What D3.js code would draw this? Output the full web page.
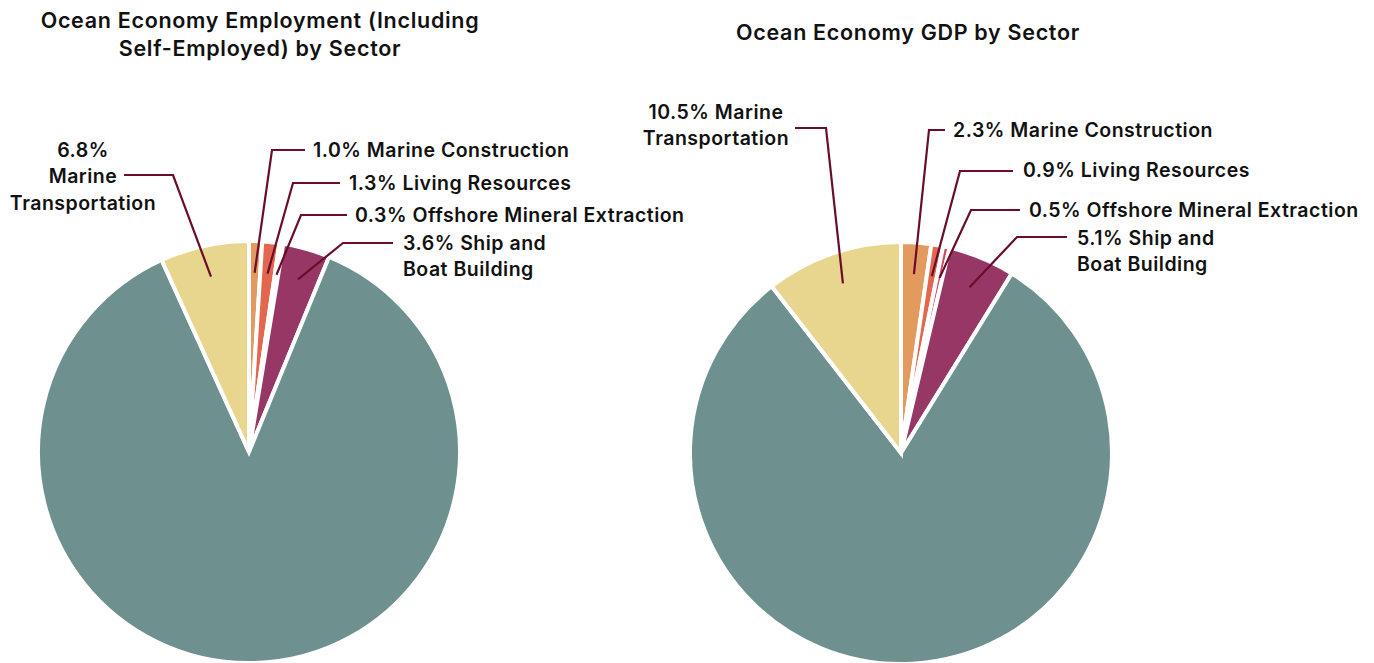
<!DOCTYPE html>
<html>
<head>
<meta charset="utf-8">
<script src="https://cdn.jsdelivr.net/npm/d3@7"></script>
<style>
  html, body { margin: 0; padding: 0; background: #ffffff; }
  svg { display: block; }
  text { font-family: Inter, "Liberation Sans", sans-serif; font-weight: 600; fill: #111111; }
</style>
</head>
<body>
<svg id="chart" width="1374" height="663"></svg>
<script>
// Sectors, in clockwise order from 12 o'clock
const sectors = [
  "Marine Construction",
  "Living Resources",
  "Offshore Mineral Extraction",
  "Ship and Boat Building",
  "Tourism and Recreation",
  "Marine Transportation"
];
// Share of ocean-economy employment (incl. self-employed), percent
const employmentShares = [1.0, 1.3, 0.3, 3.6, 87.0, 6.8];
// Share of ocean-economy GDP, percent
const gdpShares = [2.3, 0.9, 0.5, 5.1, 80.7, 10.5];
// Sectors that get a callout label (the large tourism slice is left unlabeled)
const labelledSectors = [
  "Marine Construction",
  "Living Resources",
  "Offshore Mineral Extraction",
  "Ship and Boat Building",
  "Marine Transportation"
];

const sectorColors = ["#e39a5f", "#e3664f", "#cc4e63", "#973766", "#6e9190", "#e8d68e"];
const leaderColor = "#6a0c2a";

const color = d3.scaleOrdinal().domain(sectors).range(sectorColors);
const svg = d3.select("#chart");

// Callout layout per chart: elbow point, end of horizontal run, text anchor and line breaks
const charts = [
  {
    title: ["Ocean Economy Employment (Including", "Self-Employed) by Sector"],
    titleX: 260, titleY: 20,
    values: employmentShares,
    cx: 249, cy: 452, r: 211,
    callouts: {
      "Marine Construction":        { elbow: [272, 150], end: 305, tx: 313, ty: 150, anchor: "start", fmt: v => [`${v.toFixed(1)}% Marine Construction`] },
      "Living Resources":           { elbow: [293, 183], end: 340, tx: 349, ty: 183, anchor: "start", fmt: v => [`${v.toFixed(1)}% Living Resources`] },
      "Offshore Mineral Extraction":{ elbow: [301, 215], end: 347, tx: 355, ty: 215, anchor: "start", fmt: v => [`${v.toFixed(1)}% Offshore Mineral Extraction`] },
      "Ship and Boat Building":     { elbow: [343, 243], end: 393, tx: 403, ty: 243, anchor: "start", fmt: v => [`${v.toFixed(1)}% Ship and`, "Boat Building"] },
      "Marine Transportation":      { elbow: [173, 175], end: 124, tx: 83, ty: 150, anchor: "middle", fmt: v => [`${v.toFixed(1)}%`, "Marine", "Transportation"] }
    }
  },
  {
    title: ["Ocean Economy GDP by Sector"],
    titleX: 908, titleY: 32,
    values: gdpShares,
    cx: 901, cy: 453, r: 211,
    callouts: {
      "Marine Construction":        { elbow: [929, 130], end: 945, tx: 953, ty: 130, anchor: "start", fmt: v => [`${v.toFixed(1)}% Marine Construction`] },
      "Living Resources":           { elbow: [960, 171], end: 1013, tx: 1023, ty: 170, anchor: "start", fmt: v => [`${v.toFixed(1)}% Living Resources`] },
      "Offshore Mineral Extraction":{ elbow: [971, 210], end: 1020, tx: 1029, ty: 210, anchor: "start", fmt: v => [`${v.toFixed(1)}% Offshore Mineral Extraction`] },
      "Ship and Boat Building":     { elbow: [1017, 237], end: 1067, tx: 1077, ty: 238, anchor: "start", fmt: v => [`${v.toFixed(1)}% Ship and`, "Boat Building"] },
      "Marine Transportation":      { elbow: [826, 128], end: 795, tx: 716, ty: 112, anchor: "middle", fmt: v => [`${v.toFixed(1)}% Marine`, "Transportation"] }
    }
  }
];

const pie = d3.pie().sort(null).value(d => d.value);
const labelFont = { size: 19.5, spacing: 0.5, lineHeight: 26.5 };
const titleFont = { size: 21.5, spacing: 0.7, lineHeight: 28 };

charts.forEach(c => {
  const rows = sectors.map((s, i) => ({ sector: s, value: c.values[i] }));
  const arcs = pie(rows);
  const arc = d3.arc().innerRadius(0).outerRadius(c.r);
  const anchorArc = d3.arc().innerRadius(c.r * 0.85).outerRadius(c.r * 0.85);

  const g = svg.append("g").attr("transform", `translate(${c.cx},${c.cy})`);
  g.selectAll("path.slice")
    .data(arcs)
    .join("path")
    .attr("class", "slice")
    .attr("d", arc)
    .attr("fill", d => color(d.data.sector))
    .attr("stroke", "#ffffff")
    .attr("stroke-width", 4)
    .attr("stroke-linejoin", "miter");

  // Title
  svg.append("text")
    .attr("text-anchor", "middle")
    .style("font-size", titleFont.size + "px")
    .style("letter-spacing", titleFont.spacing + "px")
    .selectAll("tspan")
    .data(c.title)
    .join("tspan")
    .attr("x", c.titleX)
    .attr("y", (d, i) => c.titleY + i * titleFont.lineHeight)
    .attr("dy", "0.35em")
    .text(d => d);

  // Callouts: leader from inside the slice to an elbow, then a horizontal run to the text
  const labelled = arcs.filter(d => labelledSectors.includes(d.data.sector));
  labelled.forEach(d => {
    const co = c.callouts[d.data.sector];
    const [sx, sy] = anchorArc.centroid(d);
    const pts = [
      [c.cx + sx, c.cy + sy],
      co.elbow,
      [co.end, co.elbow[1]]
    ];
    svg.append("path")
      .attr("d", d3.line()(pts))
      .attr("fill", "none")
      .attr("stroke", leaderColor)
      .attr("stroke-width", 2.2)
      .attr("stroke-linejoin", "miter");

    svg.append("text")
      .attr("text-anchor", co.anchor)
      .style("font-size", labelFont.size + "px")
      .style("letter-spacing", labelFont.spacing + "px")
      .selectAll("tspan")
      .data(co.fmt(d.data.value))
      .join("tspan")
      .attr("x", co.tx)
      .attr("y", (t, i) => co.ty + i * labelFont.lineHeight)
      .attr("dy", "0.35em")
      .text(t => t);
  });
});
</script>
</body>
</html>
